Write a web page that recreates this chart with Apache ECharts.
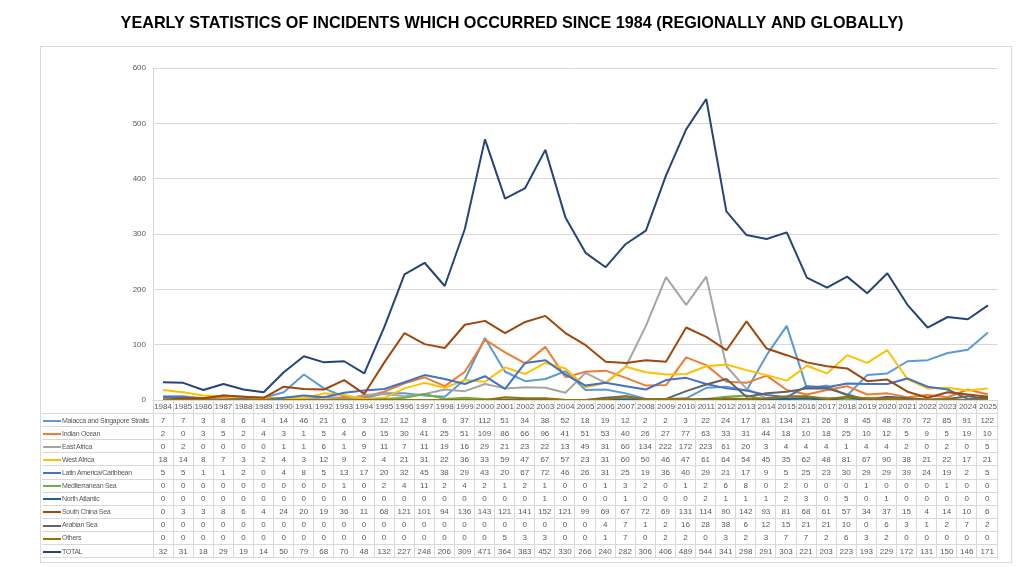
<!DOCTYPE html>
<html>
<head>
<meta charset="utf-8">
<script src="https://cdn.jsdelivr.net/npm/echarts@6/dist/echarts.min.js"></script>
<style>
  html, body { margin: 0; padding: 0; background: #fff; }
  #wrap { position: relative; width: 1024px; height: 567px; overflow: hidden; }
  #frame { position: absolute; left: 40px; top: 46px; width: 970px; height: 515px; border: 1px solid #d9d9d9; }
  #chart { position: absolute; left: 0; top: 0; width: 1024px; height: 567px; }
  #tbl {
    position: absolute; left: 42px; top: 400px; width: 956px;
    border-collapse: collapse; table-layout: fixed;
    font-family: "Liberation Sans", Arial, sans-serif; font-size: 8px; color: #595959;
    pointer-events: none;
  }
  #tbl td { border: 1px solid #d9d9d9; padding: 0; text-align: center; line-height: 11px; white-space: nowrap; overflow: hidden; }
  #tbl tr { height: 13.1px; }
  #tbl td.name { text-align: left; border-left: none; font-size: 7px; letter-spacing: -0.3px; }
  #tbl td.corner { border-top: none; border-left: none; }
  #tbl .key { display: inline-block; width: 18px; height: 2px; vertical-align: middle; margin: 0 1px 0 1px; }
</style>
</head>
<body>
<div id="wrap">
  <div id="frame"></div>
  <div id="chart"></div>
  <table id="tbl"></table>
</div>
<script>
const title = "YEARLY STATISTICS OF INCIDENTS WHICH OCCURRED SINCE 1984 (REGIONALLY AND GLOBALLY)";

const years = ["1984","1985","1986","1987","1988","1989","1990","1991","1992","1993","1994","1995","1996","1997",
  "1998","1999","2000","2001","2002","2003","2004","2005","2006","2007","2008","2009","2010","2011",
  "2012","2013","2014","2015","2016","2017","2018","2019","2020","2021","2022","2023","2024","2025"];

const malacca = [7,7,3,8,6,4,14, 46,21,6,3,12,12,8,6,37,112,51,34, 38,52,18,19,12,2,2,3,22,24,17,81, 134,21,26,8,45,48,70,72,85,91,122];
const indianOcean = [2,0,3,5,2,4,3, 1,5,4,6,15,30,41,25,51,109,86,66, 96,41,51,53,40,26,27,77,63,33,31,44, 18,10,18,25,10,12,5,9,5,19,10];
const eastAfrica = [0,2,0,0,0,0,1, 1,6,1,9,11,7,11,19,16,29,21,23, 22,13,49,31,60,134,222,172,223,61,20,3, 4,4,4,1,4,4,2,0,2,0,5];
const westAfrica = [18,14,8,7,3,2,4, 3,12,9,2,4,21,31,22,36,33,59,47, 67,57,23,31,60,50,46,47,61,64,54,45, 35,62,48,81,67,90,38,21,22,17,21];
const latinAmerica = [5,5,1,1,2,0,4, 8,5,13,17,20,32,45,38,29,43,20,67, 72,46,26,31,25,19,36,40,29,21,17,9, 5,25,23,30,29,29,39,24,19,2,5];
const mediterranean = [0,0,0,0,0,0,0, 0,0,1,0,2,4,11,2,4,2,1,2, 1,0,0,1,3,2,0,1,2,6,8,0, 2,0,0,0,1,0,0,0,1,0,0];
const northAtlantic = [0,0,0,0,0,0,0, 0,0,0,0,0,0,0,0,0,0,0,0, 1,0,0,0,1,0,0,0,2,1,1,1, 2,3,0,5,0,1,0,0,0,0,0];
const southChinaSea = [0,3,3,8,6,4,24, 20,19,36,11,68,121,101,94,136,143,121,141, 152,121,99,69,67,72,69,131,114,90,142,93, 81,68,61,57,34,37,15,4,14,10,6];
const arabianSea = [0,0,0,0,0,0,0, 0,0,0,0,0,0,0,0,0,0,0,0, 0,0,0,4,7,1,2,16,28,38,6,12, 15,21,21,10,0,6,3,1,2,7,2];
const others = [0,0,0,0,0,0,0, 0,0,0,0,0,0,0,0,0,0,5,3, 3,0,0,1,7,0,2,2,0,3,2,3, 7,7,2,6,3,2,0,0,0,0,0];
const total = [32,31,18,29,19,14,50, 79,68,70,48,132,227,248,206,309,471,364,383, 452,330,266,240,282,306,406,489,544,341,298,291, 303,221,203,223,193,229,172,131,150,146,171];

const seriesNames = ["Malacca and Singapore Straits","Indian Ocean","East Africa","West Africa","Latin America/Caribbean",
  "Mediterranean Sea","North Atlantic","South China Sea","Arabian Sea","Others","TOTAL"];
const seriesData = [malacca, indianOcean, eastAfrica, westAfrica, latinAmerica, mediterranean, northAtlantic,
  southChinaSea, arabianSea, others, total];
const colors = ["#5b9bd5","#ed7d31","#a5a5a5","#ffc000","#4472c4","#70ad47","#255e91","#9e480e","#636363","#997300","#264478"];

// data table under the plot
const tbl = document.getElementById("tbl");
let html = '<colgroup><col style="width:111px">' + years.map(() => "<col>").join("") + "</colgroup>";
html += '<tr><td class="corner"></td>' + years.map(() => "<td></td>").join("") + "</tr>";
seriesNames.forEach((name, i) => {
  html += '<tr><td class="name"><span class="key" style="background:' + colors[i] + '"></span>' + name + "</td>";
  html += seriesData[i].map((v) => "<td>" + v + "</td>").join("") + "</tr>";
});
tbl.innerHTML = html;

const chart = echarts.init(document.getElementById("chart"));
chart.setOption({
  animation: false,
  title: {
    text: title,
    left: "center",
    top: 11,
    textStyle: { fontFamily: "Liberation Sans", fontWeight: "bold", fontSize: 16.2, color: "#000" },
  },
  grid: { left: 153, right: 26, top: 68, bottom: 167, containLabel: false, outerBoundsMode: "none" },
  xAxis: {
    type: "category",
    data: years,
    boundaryGap: true,
    axisLine: { lineStyle: { color: "#d9d9d9" } },
    axisTick: { show: false },
    axisLabel: { color: "#595959", fontSize: 8, margin: 3, interval: 0, fontFamily: "Liberation Sans" },
    splitLine: { show: false },
  },
  yAxis: {
    type: "value",
    min: 0,
    max: 600,
    interval: 100,
    axisLine: { show: true, lineStyle: { color: "#d9d9d9" } },
    axisTick: { show: false },
    axisLabel: { color: "#595959", fontSize: 8, margin: 7, fontFamily: "Liberation Sans" },
    splitLine: { lineStyle: { color: "#d9d9d9" } },
  },
  series: seriesNames.map((name, i) => ({
    name,
    type: "line",
    data: seriesData[i],
    symbol: "none",
    lineStyle: { width: 2, color: colors[i] },
    itemStyle: { color: colors[i] },
  })),
});
</script>
</body>
</html>
